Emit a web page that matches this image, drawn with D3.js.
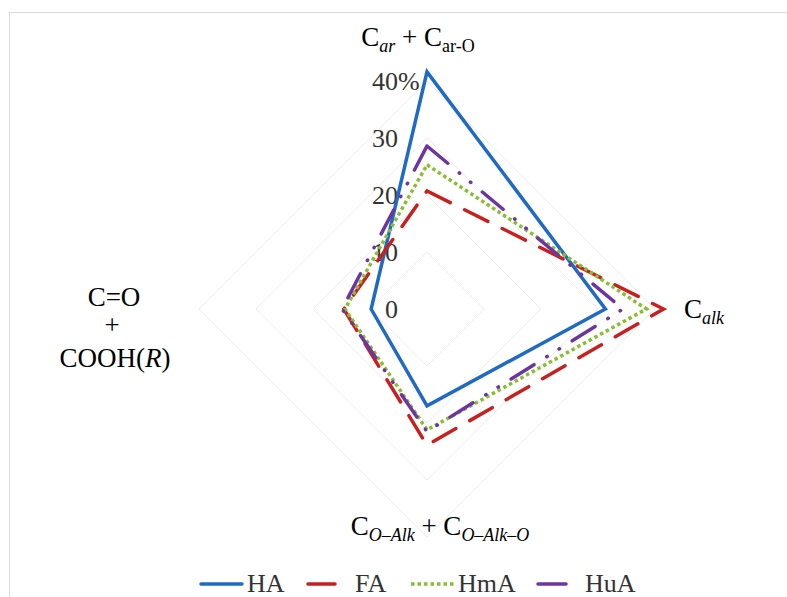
<!DOCTYPE html>
<html>
<head>
<meta charset="utf-8">
<script src="https://cdn.jsdelivr.net/npm/d3@7"></script>
<style>
html,body{margin:0;padding:0;background:#fff;}
svg{display:block;font-family:"Liberation Serif","Times New Roman",serif;}
</style>
</head>
<body>
<svg id="chart" width="787" height="597"></svg>
<script>
// ---- data ----
const axes = ["Car", "Calk", "CO-Alk", "C=O"]; // top, right, bottom, left
const seriesNames = ["HA", "FA", "HmA", "HuA"];
const HA  = [41.6, 31.3, 17.0, 9.8];
const FA  = [20.7, 41.5, 23.9, 14.6];
const HmA = [25.3, 38.5, 21.2, 14.4];
const HuA = [28.6, 34.4, 21.5, 14.9];
const ticks = [0, 10, 20, 30, 40];
const tickLabels = ["0", "10", "20", "30", "40"];

(function () {
const svg = d3.select("#chart");
const cx = 427, cy = 309;
const r = d3.scaleLinear().domain([0, 40]).range([0, 228]);
const angle = d3.scalePoint().domain(axes).range([0, 270]); // degrees, clockwise from top

// chart border
svg.append("rect").attr("x", 9.5).attr("y", 12.5).attr("width", 900).attr("height", 700)
  .attr("fill", "none").attr("stroke", "#d9d9d9").attr("stroke-width", 1);

const g = svg.append("g").attr("transform", `translate(${cx},${cy})`);

function pt(a, v) {
  const t = angle(a) * Math.PI / 180;
  return [Math.sin(t) * r(v), -Math.cos(t) * r(v)];
}

// grid diamonds
ticks.filter(t => t > 0).forEach(t => {
  g.append("path")
    .attr("d", d3.line()(axes.map(a => pt(a, t))) + "Z")
    .attr("fill", "none").attr("stroke", "#ececec").attr("stroke-width", 1);
});

// tick labels
ticks.forEach((t, i) => {
  g.append("text").attr("x", -29).attr("y", -r(t) + 9)
    .attr("text-anchor", "end").attr("font-size", 26).attr("fill", "#333")
    .text(tickLabels[i]);
});
g.append("text").attr("x", -29).attr("y", -r(40) + 9)
  .attr("font-size", 26).attr("fill", "#333").text("%");

// series
const styles = {
  HA:  {color: "#1f6bc3", dash: null, cap: "round"},
  FA:  {color: "#c8201e", dash: "26,16", cap: "round"},
  HmA: {color: "#86bf31", dash: "3.5,3", cap: "butt"},
  HuA: {color: "#6d35a2", dash: "27,15,0.5,14,0.5,15", cap: "round"}
};
const data = {HA, FA, HmA, HuA};
const radial = d3.lineRadial()
  .angle((d, i) => angle(axes[i]) * Math.PI / 180)
  .radius(d => r(d))
  .curve(d3.curveLinearClosed);

seriesNames.forEach(name => {
  const s = styles[name];
  g.append("path")
    .attr("d", radial(data[name]))
    .attr("fill", "none")
    .attr("stroke", s.color)
    .attr("stroke-width", 3.5)
    .attr("stroke-linejoin", "miter")
    .attr("stroke-linecap", s.cap)
    .attr("stroke-dasharray", s.dash);
});

// axis labels
const fs = 27, sfs = 18;
// top
const topLbl = svg.append("text").attr("x", 418).attr("y", 46).attr("text-anchor", "middle")
  .attr("font-size", fs).attr("fill", "#000");
topLbl.append("tspan").text("C");
topLbl.append("tspan").attr("font-size", sfs).attr("font-style", "italic").attr("dy", 6).text("ar");
topLbl.append("tspan").attr("dy", -6).text(" + C");
topLbl.append("tspan").attr("font-size", sfs).attr("dy", 6).text("ar-O");

// right
const rt = svg.append("text").attr("x", 684).attr("y", 318).attr("font-size", fs).attr("fill", "#000");
rt.append("tspan").text("C");
rt.append("tspan").attr("font-size", sfs).attr("font-style", "italic").attr("dy", 6).text("alk");

// bottom
const bt = svg.append("text").attr("x", 440).attr("y", 535).attr("text-anchor", "middle")
  .attr("font-size", fs).attr("fill", "#000");
bt.append("tspan").text("C");
bt.append("tspan").attr("font-size", sfs).attr("font-style", "italic").attr("dy", 6).text("O\u2013Alk");
bt.append("tspan").attr("dy", -6).text(" + C");
bt.append("tspan").attr("font-size", sfs).attr("font-style", "italic").attr("dy", 6).text("O\u2013Alk\u2013O");

// left
svg.append("text").attr("x", 114).attr("y", 306).attr("text-anchor", "middle")
  .attr("font-size", fs).attr("fill", "#000").text("C=O");
svg.append("text").attr("x", 112).attr("y", 334).attr("text-anchor", "middle")
  .attr("font-size", fs).attr("fill", "#000").text("+");
const lt = svg.append("text").attr("x", 115).attr("y", 367).attr("text-anchor", "middle")
  .attr("font-size", fs).attr("fill", "#000");
lt.append("tspan").text("COOH(");
lt.append("tspan").attr("font-style", "italic").text("R");
lt.append("tspan").text(")");

// legend
const legend = [
  {name: "HA",  x1: 201, x2: 242, tx: 247, dash: null},
  {name: "FA",  x1: 308, x2: 335, tx: 355, dash: null},
  {name: "HmA", x1: 411, x2: 455, tx: 458, dash: "3.5,3"},
  {name: "HuA", x1: 538, x2: 566, tx: 585, dash: null}
];
legend.forEach(l => {
  const s = styles[l.name];
  svg.append("line").attr("x1", l.x1).attr("x2", l.x2).attr("y1", 584).attr("y2", 584)
    .attr("stroke", s.color).attr("stroke-width", 3.5)
    .attr("stroke-linecap", s.cap).attr("stroke-dasharray", l.dash);
  svg.append("text").attr("x", l.tx).attr("y", 592).attr("font-size", 26).attr("fill", "#333")
    .text(l.name);
});
})();
</script>
</body>
</html>
